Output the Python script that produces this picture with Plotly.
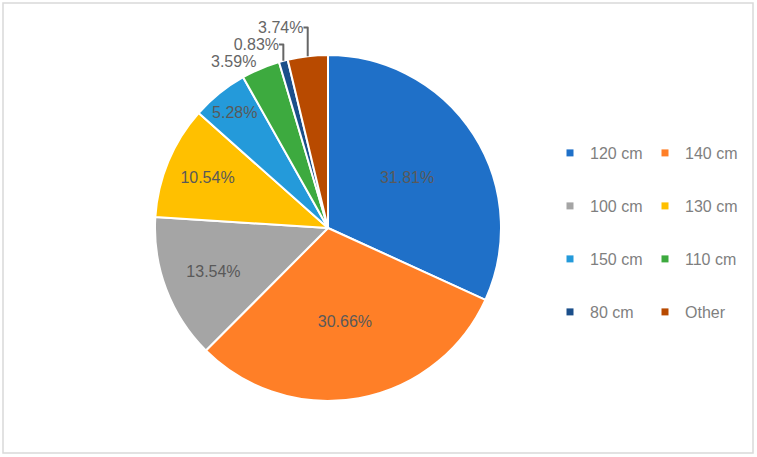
import plotly.graph_objects as go

labels = ["120 cm", "140 cm", "100 cm", "130 cm", "150 cm", "110 cm", "80 cm", "Other"]
values = [31.81, 30.66, 13.54, 10.54, 5.28, 3.59, 0.83, 3.74]
colors = ["#1F70C8", "#FF7F27", "#A5A5A5", "#FFC000", "#249ADA", "#3DAA3F", "#1B4F8A", "#B84A00"]
text_positions = ["inside", "inside", "inside", "inside", "inside", "outside", "outside", "outside"]

W, H = 757, 457
cx, cy, r = 328, 228, 173

fig = go.Figure()
fig.add_trace(go.Pie(
    labels=labels,
    values=values,
    sort=False,
    direction="clockwise",
    rotation=0,
    marker=dict(colors=colors, line=dict(color="white", width=2)),
    texttemplate="%{value:.2f}%",
    textposition=text_positions,
    insidetextorientation="horizontal",
    insidetextfont=dict(color="#595959", size=16, family="Liberation Sans"),
    outsidetextfont=dict(color="#666666", size=16, family="Liberation Sans"),
    showlegend=False,
    automargin=False,
    hoverinfo="label+value",
    domain=dict(x=[(cx - r) / W, (cx + r) / W], y=[(H - cy - r) / H, (H - cy + r) / H]),
))

# legend entries, two per row
rows = [(0, 1), (2, 3), (4, 5), (6, 7)]
row_y = [153, 206, 259, 312]
legend_names = ["legend", "legend2", "legend3", "legend4"]
for ri, (a, b) in enumerate(rows):
    for idx in (a, b):
        fig.add_trace(go.Scatter(
            x=[None], y=[None], mode="markers", name=labels[idx],
            marker=dict(symbol="square", size=7, color=colors[idx]),
            legend=legend_names[ri], showlegend=True,
        ))

legend_common = dict(
    orientation="h", xanchor="left", yanchor="middle", x=550 / W,
    entrywidth=50, entrywidthmode="pixels", itemwidth=30,
    font=dict(size=16, color="#7F7F7F", family="Liberation Sans"),
    bgcolor="rgba(0,0,0,0)", borderwidth=0,
)
layout_legends = {}
for ri, name in enumerate(legend_names):
    d = dict(legend_common)
    d["y"] = (H - row_y[ri]) / H
    layout_legends[name] = d

fig.update_layout(
    width=W, height=H,
    margin=dict(l=0, r=0, t=0, b=0, autoexpand=False),
    paper_bgcolor="white", plot_bgcolor="white",
    xaxis=dict(visible=False), yaxis=dict(visible=False),
    shapes=[dict(type="rect", xref="paper", yref="paper",
                 x0=3 / W, x1=753 / W, y0=4 / H, y1=1 - 3 / H,
                 line=dict(color="#D9D9D9", width=1.5), fillcolor="rgba(0,0,0,0)")],
    **layout_legends,
)

fig.write_html("out.html", config={"displayModeBar": False},
               post_script="document.body.style.margin='0px';")
